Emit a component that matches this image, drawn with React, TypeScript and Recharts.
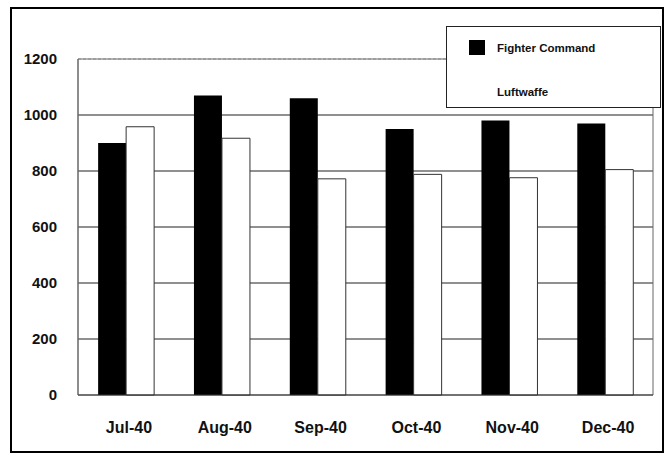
import React from "react";
import {
  BarChart,
  Bar,
  XAxis,
  YAxis,
  CartesianGrid,
  ReferenceArea,
  ReferenceLine,
} from "recharts";

// Monthly aircraft strength, 1940
const months = ["Jul-40", "Aug-40", "Sep-40", "Oct-40", "Nov-40", "Dec-40"];
const fighterCommand = [900, 1070, 1060, 950, 980, 970];
const luftwaffe = [958, 917, 772, 788, 776, 805];
const yTicks = [0, 200, 400, 600, 800, 1000, 1200];

const seriesNames = ["Fighter Command", "Luftwaffe"];
const seriesFills = ["#000", "#fff"];

const data = months.map((m, i) => ({
  month: m,
  fighter: fighterCommand[i],
  luftwaffe: luftwaffe[i],
}));

const FONT = "'Liberation Sans', Arial, Helvetica, sans-serif";

function LegendBox() {
  const row = (fill: string, label: string, top: number) => (
    <div style={{ position: "absolute", left: 22, top, display: "flex", alignItems: "center" }}>
      <div style={{ width: 16, height: 15, background: fill }} />
      <span
        style={{
          marginLeft: 12,
          fontFamily: FONT,
          fontWeight: 700,
          fontSize: 11.5,
          color: "#111",
          whiteSpace: "nowrap",
        }}
      >
        {label}
      </span>
    </div>
  );
  return (
    <div
      style={{
        position: "absolute",
        left: 446,
        top: 26,
        width: 215,
        height: 82,
        boxSizing: "border-box",
        background: "#fff",
        border: "1.5px solid #222",
      }}
    >
      {row(seriesFills[0], seriesNames[0], 13)}
      {row(seriesFills[1], seriesNames[1], 57)}
    </div>
  );
}

export default function App() {
  return (
    <div
      style={{
        position: "absolute",
        left: 0,
        top: 0,
        width: 666,
        height: 459,
        background: "#fff",
        overflow: "hidden",
      }}
    >
      <div
        style={{
          position: "absolute",
          left: 10,
          top: 7,
          width: 654,
          height: 446,
          boxSizing: "border-box",
          border: "2px solid #000",
        }}
      />
      <div style={{ position: "absolute", left: 0, top: 0 }}>
        <BarChart
          width={666}
          height={459}
          data={data}
          margin={{ top: 59, right: 13, bottom: 0, left: 0 }}
          barGap={0}
          barCategoryGap="21%"
        >
          <CartesianGrid
            vertical={false}
            horizontalValues={[200, 400, 600, 800, 1000]}
            stroke="#222"
            strokeWidth={1.2}
          />
          <ReferenceArea
            y1={0}
            y2={1200}
            fill="none"
            stroke="#666"
            strokeWidth={1}
            ifOverflow="extendDomain"
          />
          <ReferenceLine y={1200} stroke="#888" strokeDasharray="3 2" />
          <XAxis
            dataKey="month"
            height={64}
            tickLine={false}
            axisLine={{ stroke: "#333", strokeWidth: 1.2 }}
            tickMargin={21}
            tick={{ fill: "#111", fontFamily: FONT, fontWeight: 700, fontSize: 16, dx: 3 }}
            interval={0}
          />
          <YAxis
            width={78}
            domain={[0, 1200]}
            ticks={yTicks}
            tickLine={false}
            axisLine={{ stroke: "#666" }}
            tickMargin={15}
            tick={{ fill: "#111", fontFamily: FONT, fontWeight: 700, fontSize: 15 }}
          />
          <Bar dataKey="fighter" name={seriesNames[0]} fill={seriesFills[0]} isAnimationActive={false} />
          <Bar
            dataKey="luftwaffe"
            name={seriesNames[1]}
            fill={seriesFills[1]}
            stroke="#333"
            strokeWidth={1}
            isAnimationActive={false}
          />
        </BarChart>
      </div>
      <LegendBox />
    </div>
  );
}
